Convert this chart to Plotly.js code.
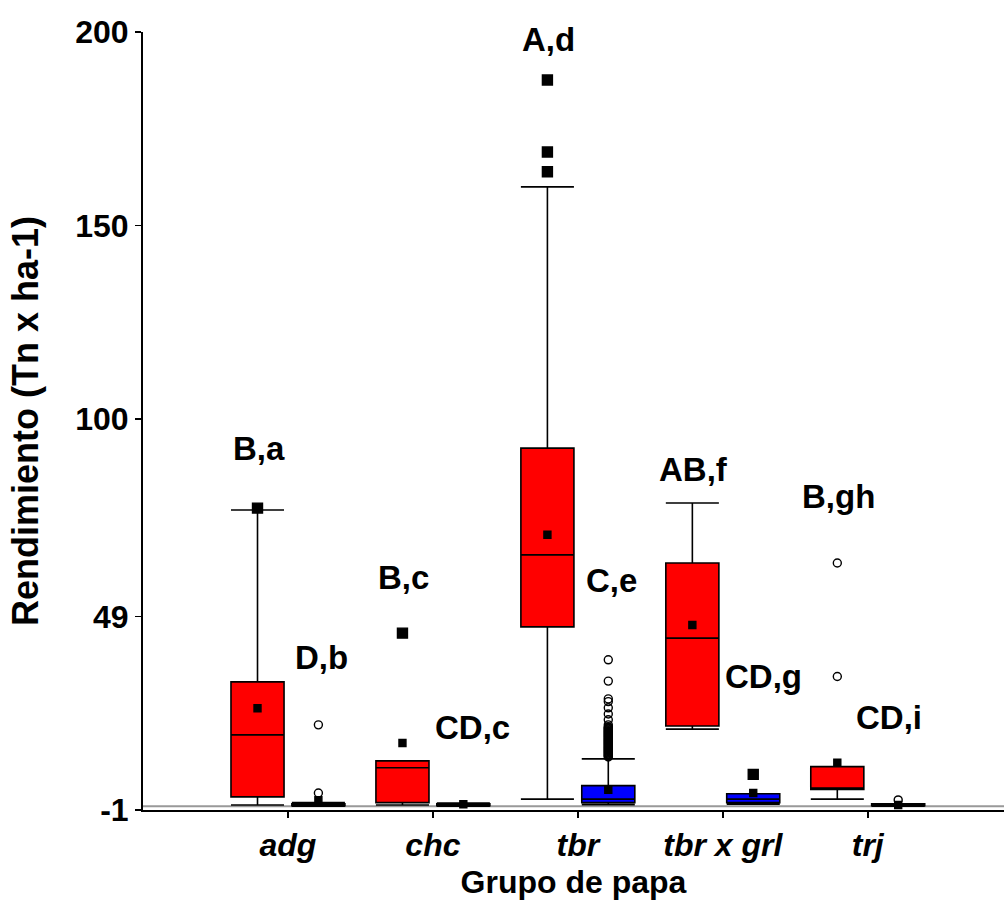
<!DOCTYPE html>
<html>
<head>
<meta charset="utf-8">
<script src="https://cdn.plot.ly/plotly-3.0.1.min.js"></script>
<style>
  html, body { margin: 0; padding: 0; background: #fff; }
  #chart { width: 1004px; height: 906px; }
</style>
</head>
<body>
<div id="chart"></div>
<script>
// ---- Data ----
const categories = ['adg', 'chc', 'tbr', 'tbr x grl', 'trj'];

// Red series (first box of each pair)
const redQ1     = [2.4, 0.9, 46.3, 20.7, 4.3];
const redMedian = [18.4, 9.9, 64.9, 43.4, 4.7];
const redQ3     = [32.1, 11.7, 92.5, 62.8, 10.2];
const redLower  = [0.3, 0.3, 1.8, 19.9, 1.8];
const redUpper  = [76.5, 11.7, 160, 78.3, 10.2];
const redMean   = [25.3, 16.3, 70.1, 46.8, 11.2];

// Blue series (second box of each pair)
const blueQ1     = [0.1, 0.1, 0.9, 0.9, 0.1];
const blueMedian = [0.3, 0.3, 1.8, 1.8, 0.3];
const blueQ3     = [0.6, 0.6, 5.3, 3.2, 0.6];
const blueLower  = [0.0, 0.0, 0.4, 0.5, 0.0];
const blueUpper  = [0.9, 0.8, 12.2, 3.2, 0.6];
const blueMean   = [1.5, 0.5, 4.2, 3.4, 0.3];

// Outliers: category index and value
const redOutlierSquareCat = [0, 1, 2, 2, 2];
const redOutlierSquareVal = [77, 44.7, 187.6, 169, 163.9];
const redOutlierCircleCat = [4, 4];
const redOutlierCircleVal = [62.8, 33.5];

const blueOutlierSquareCat = [3];
const blueOutlierSquareVal = [8.2];
const blueOutlierCircleVal_adg = [21, 3.4];
const blueOutlierCircleVal_tbr = [
  37.8, 32.3, 27.7, 27.0, 25.4, 23.8, 22.3, 21.0,
  20.5, 20.3, 20.1, 19.9, 19.7, 19.5, 19.3, 19.1, 18.9, 18.7, 18.5, 18.3, 18.1,
  17.9, 17.7, 17.5, 17.3, 17.1, 16.9, 16.7, 16.5, 16.3, 16.1, 15.9, 15.7, 15.5,
  15.3, 15.1, 14.9, 14.7, 14.5, 14.3, 14.1, 13.9, 13.7, 13.5, 13.3, 13.1, 12.9,
  12.7];
const blueOutlierCircleVal_trj = [1.6];

// Significance letters (red box label, blue box label)
const redLetters  = ['B,a', 'B,c', 'A,d', 'AB,f', 'B,gh'];
const blueLetters = ['D,b', 'CD,c', 'C,e', 'CD,g', 'CD,i'];
const redLetterY  = [92.5, 59, 198, 86.9, 79.9];
const blueLetterY = [38.3, 20.4, 58.2, 33.6, 23];

const yTickVals = [-1, 49, 100, 150, 200];
const yTickText = ['-1', '49', '100', '150', '200'];

// ---- Build ----
const OFF = 0.21, BW = 0.366;
const idx = categories.map((c, i) => i);
const redX = idx.map(i => i - OFF);
const blueX = idx.map(i => i + OFF);

function boxTrace(x, q1, med, q3, lo, up, color) {
  return {
    type: 'box', x: x, q1: q1, median: med, q3: q3,
    lowerfence: lo, upperfence: up,
    width: BW, whiskerwidth: 1,
    fillcolor: color, line: { color: '#000', width: 1.6 },
    boxpoints: false, showlegend: false, hoverinfo: 'skip'
  };
}
function pts(xs, ys, symbol, size, fill) {
  return {
    type: 'scatter', mode: 'markers', x: xs, y: ys, showlegend: false,
    hoverinfo: 'skip', cliponaxis: false,
    marker: { symbol: symbol, size: size, color: fill, line: { color: '#000', width: 1.4 } }
  };
}

const blueCircleVals = blueOutlierCircleVal_adg.concat(blueOutlierCircleVal_tbr, blueOutlierCircleVal_trj);
const blueCircleX = blueOutlierCircleVal_adg.map(() => 0 + OFF)
  .concat(blueOutlierCircleVal_tbr.map(() => 2 + OFF), blueOutlierCircleVal_trj.map(() => 4 + OFF));

const data = [
  boxTrace(redX, redQ1, redMedian, redQ3, redLower, redUpper, '#ff0000'),
  boxTrace(blueX, blueQ1, blueMedian, blueQ3, blueLower, blueUpper, '#0000ff'),
  pts(redX, redMean, 'square', 7, '#000'),
  pts(blueX, blueMean, 'square', 7, '#000'),
  pts(redOutlierSquareCat.map(i => i - OFF), redOutlierSquareVal, 'square', 10, '#000'),
  pts(blueOutlierSquareCat.map(i => i + OFF), blueOutlierSquareVal, 'square', 10, '#000'),
  pts(redOutlierCircleCat.map(i => i - OFF), redOutlierCircleVal, 'circle-open', 8, '#000'),
  pts(blueCircleX, blueCircleVals, 'circle-open', 8, '#000')
];

const FAM = 'Liberation Sans, Arial, sans-serif';
const labelFont = { family: FAM, size: 33, color: '#000', weight: 'bold' };
const annotations = [];
redLetters.forEach((t, i) => annotations.push({
  x: i - 0.2, y: redLetterY[i], xref: 'x', yref: 'y', text: t, showarrow: false, font: labelFont
}));
const blueDx = [0.23, 0.27, 0.23, 0.28, 0.15];
blueLetters.forEach((t, i) => annotations.push({
  x: i + blueDx[i], y: blueLetterY[i], xref: 'x', yref: 'y', text: t, showarrow: false, font: labelFont
}));

const layout = {
  width: 1004, height: 906,
  margin: { l: 143, r: 0, t: 32, b: 96 },
  paper_bgcolor: '#fff', plot_bgcolor: '#fff',
  font: { family: FAM, color: '#000' },
  xaxis: {
    range: [-1, 4.94], showgrid: false, zeroline: false,
    showline: true, linecolor: '#000', linewidth: 2,
    tickmode: 'array', tickvals: idx, ticktext: categories,
    ticks: 'outside', ticklen: 6, tickwidth: 1.5, tickcolor: '#000',
    tickfont: { family: FAM, size: 32, weight: 'bold', style: 'italic', color: '#000' },
    title: { text: 'Grupo de papa', font: { family: FAM, size: 32, weight: 'bold', color: '#000' }, standoff: 8 }
  },
  yaxis: {
    range: [-1, 200], showgrid: false, zeroline: false,
    showline: true, linecolor: '#000', linewidth: 2,
    tickmode: 'array', tickvals: yTickVals, ticktext: yTickText,
    ticks: 'outside', ticklen: 6, tickwidth: 1.5, tickcolor: '#000',
    tickfont: { family: FAM, size: 32, weight: 'bold', color: '#000' },
    title: { text: 'Rendimiento (Tn x ha-1)', font: { family: FAM, size: 36, weight: 'bold', color: '#000' }, standoff: 26 }
  },
  shapes: [{
    type: 'line', xref: 'paper', yref: 'y', x0: 0, x1: 1, y0: 0, y1: 0,
    line: { color: '#999', width: 2 }, layer: 'below'
  }],
  annotations: annotations
};

Plotly.newPlot('chart', data, layout, { displayModeBar: false, staticPlot: true });
</script>
</body>
</html>
